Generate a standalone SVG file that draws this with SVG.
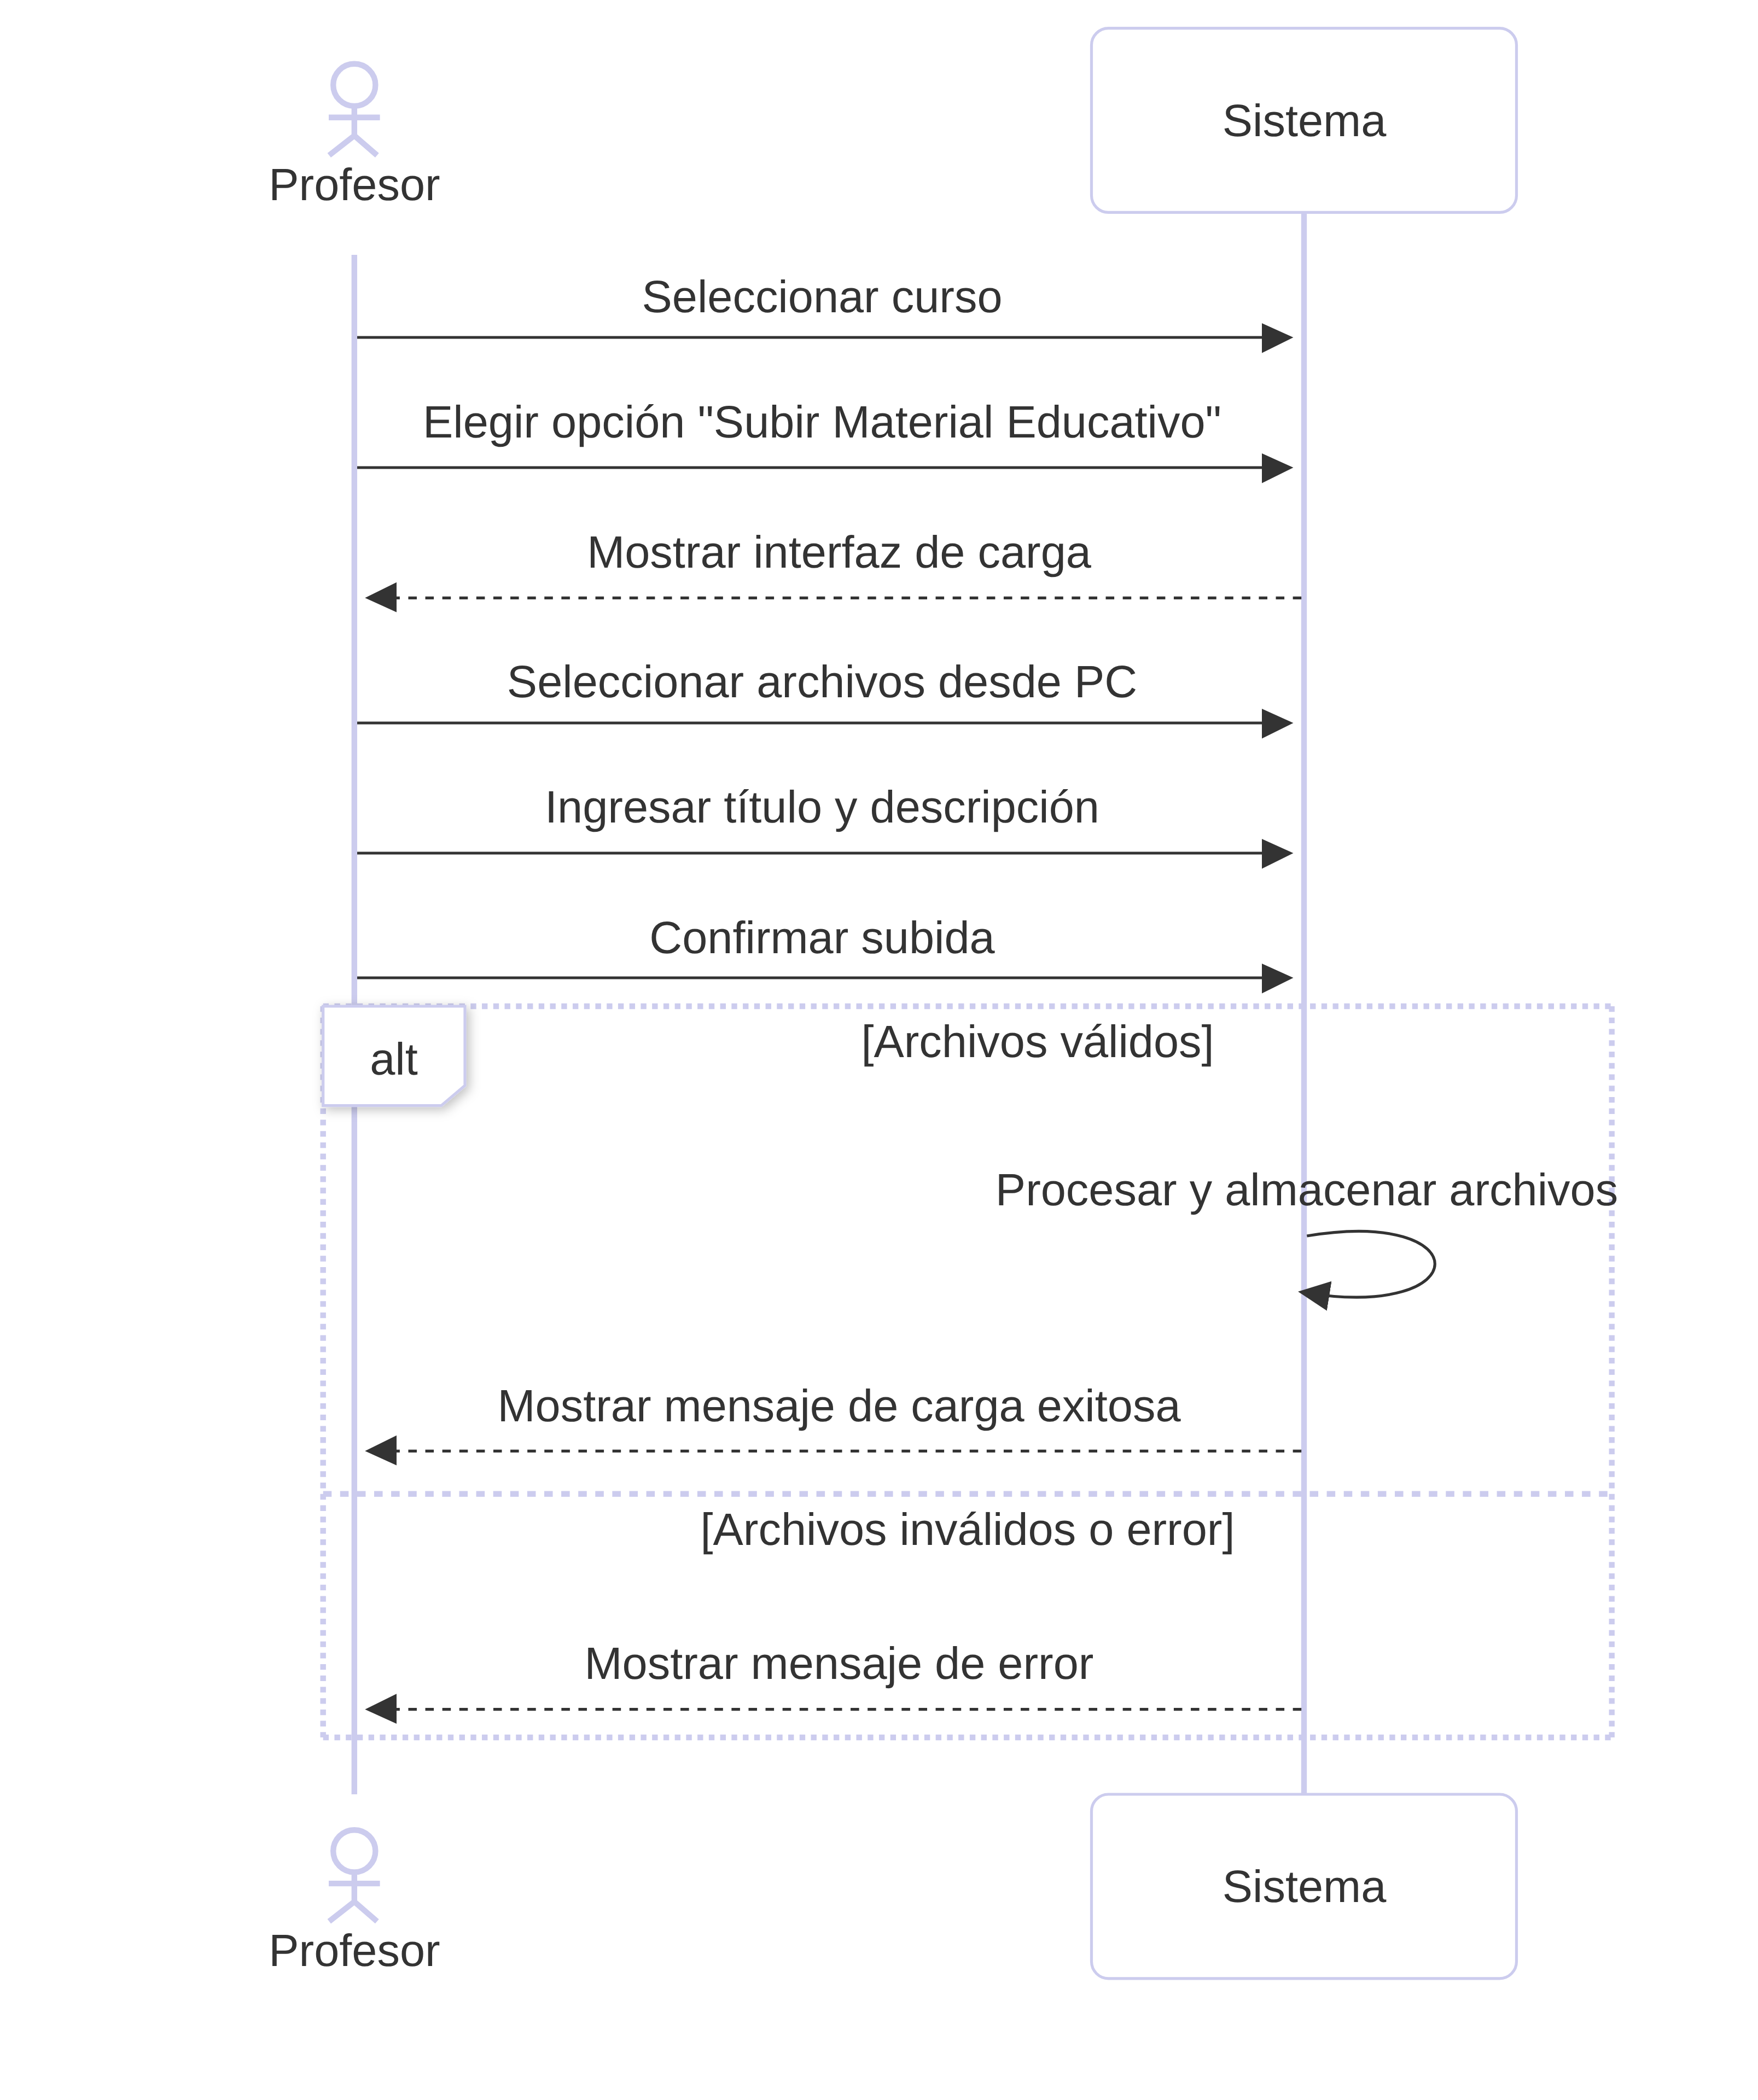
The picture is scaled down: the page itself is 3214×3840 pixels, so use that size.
<svg xmlns="http://www.w3.org/2000/svg" width="3214" height="3840" viewBox="0 0 3214 3840">
<style>
text{font-family:"Liberation Sans",Arial,sans-serif;font-size:82.93px;fill:#333;text-anchor:middle;text-rendering:geometricPrecision}
.life{stroke:#ccccee;stroke-width:10.37;fill:none}
.actor{fill:#fff;stroke:#ccccee;stroke-width:5.18}
.man{fill:none;stroke:#ccccee;stroke-width:10.37}
.msg{stroke:#333;stroke-width:5.18;fill:none;marker-end:url(#arr)}
.dash{stroke-dasharray:15.55 15.55}
.loop{stroke:#ccccee;stroke-width:10.37;fill:none;stroke-dasharray:10.37 10.37}
.sep{stroke:#ccccee;stroke-width:10.37;fill:none;stroke-dasharray:15.55 15.55}
</style>
<defs>
<marker id="arr" markerUnits="userSpaceOnUse" markerWidth="70" markerHeight="70" viewBox="0 0 70 70" refX="45.6" refY="30" orient="auto"><path d="M0 3.8L57.7 30L0 58.5Z" fill="#333"/></marker>
<symbol id="man" overflow="visible"><circle cx="647.8" cy="155.4" r="38.6"/><path d="M647.8 194V248M601 214.7H694.6M601.8 284L647.8 248M689.3 284L647.8 248"/></symbol>
<filter id="sh" x="-30%" y="-30%" width="170%" height="170%"><feDropShadow dx="5.18" dy="5.18" stdDeviation="10.37" flood-color="#000" flood-opacity=".25"/></filter>
</defs>
<rect width="3214" height="3840" fill="#fff"/>
<g id="lifelines">
<line class="life" x1="647.8" y1="466" x2="647.8" y2="3281"/>
<line class="life" x1="2384" y1="388" x2="2384" y2="3281"/>
</g>
<g id="alt-frame">
<path class="loop" d="M590.7 1840H2946.7M2946.7 1840V3177M590.7 3177H2946.7M590.7 1840V3177"/>
<line class="sep" x1="590.7" y1="2731.7" x2="2946.7" y2="2731.7"/>
</g>
<g id="alt-label">
<path d="M590.7 1840H850V1985L806.7 2021.7H590.7Z" fill="#fff" stroke="#ccccee" stroke-width="5.18" filter="url(#sh)"/>
<text x="720" y="1965">alt</text>
</g>
<text x="1897" y="1933">[Archivos válidos]</text>
<text x="1769" y="2825">[Archivos inválidos o error]</text>
<g id="connectors">
<line class="msg" x1="653" y1="617" x2="2352.4" y2="617"/>
<line class="msg" x1="653" y1="855" x2="2352.4" y2="855"/>
<line class="msg dash" x1="2379.2" y1="1093.3" x2="679.4" y2="1093.3"/>
<line class="msg" x1="653" y1="1322" x2="2352.4" y2="1322"/>
<line class="msg" x1="653" y1="1560" x2="2352.4" y2="1560"/>
<line class="msg" x1="653" y1="1788" x2="2352.4" y2="1788"/>
<path class="msg" d="M2389.3 2260C2702 2208 2702 2415 2385 2363.7"/>
<line class="msg dash" x1="2379.2" y1="2653.3" x2="679.4" y2="2653.3"/>
<line class="msg dash" x1="2379.2" y1="3125.7" x2="679.4" y2="3125.7"/>
</g>
<g id="messages">
<text x="1503" y="571">Seleccionar curso</text>
<text x="1503" y="799.5">Elegir opción "Subir Material Educativo"</text>
<text x="1534" y="1037.5">Mostrar interfaz de carga</text>
<text x="1503" y="1275">Seleccionar archivos desde PC</text>
<text x="1503" y="1504">Ingresar título y descripción</text>
<text x="1503" y="1742.5">Confirmar subida</text>
<text x="2389" y="2204">Procesar y almacenar archivos</text>
<text x="1534" y="2598.5">Mostrar mensaje de carga exitosa</text>
<text x="1534" y="3070">Mostrar mensaje de error</text>
</g>
<g id="actor-profesor-top">
<use href="#man" class="man"/>
<text x="648" y="366">Profesor</text>
</g>
<g id="actor-sistema-top">
<rect class="actor" x="1995.5" y="51.6" width="777" height="336.8" rx="31"/>
<text x="2384.5" y="248.7">Sistema</text>
</g>
<g id="actor-profesor-bottom">
<use href="#man" class="man" y="3229.4"/>
<text x="648" y="3595.4">Profesor</text>
</g>
<g id="actor-sistema-bottom">
<rect class="actor" x="1995.5" y="3281" width="777" height="336.8" rx="31"/>
<text x="2384.5" y="3478.1">Sistema</text>
</g>
</svg>
